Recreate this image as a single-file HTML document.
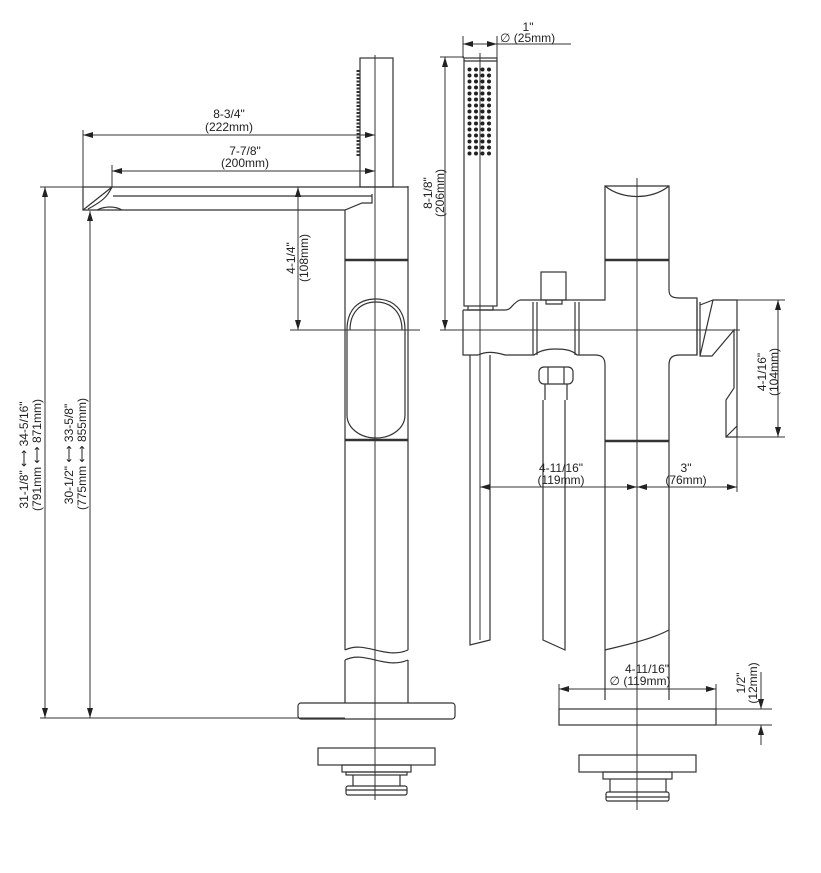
<!DOCTYPE html>
<html><head><meta charset="utf-8"><style>
html,body{margin:0;padding:0;background:#fff;}
svg{display:block;}
text{font-family:"Liberation Sans",sans-serif;font-size:12px;fill:#222;}
</style></head><body>
<svg width="821" height="873" viewBox="0 0 821 873" xmlns="http://www.w3.org/2000/svg">
<defs>
<marker id="a" viewBox="0 0 10 6" refX="10" refY="3" markerWidth="10" markerHeight="6" orient="auto-start-reverse" markerUnits="userSpaceOnUse"><path d="M0,0 L10,3 L0,6z" fill="#222"/></marker>
<pattern id="dots" x="467" y="67" width="6.5" height="6" patternUnits="userSpaceOnUse"><circle cx="2.5" cy="2.5" r="2" fill="#222"/></pattern>
</defs>
<g fill="none" stroke="#333" stroke-width="1.2">
<!-- ===== LEFT VIEW ===== -->
<line x1="375" y1="55" x2="375" y2="800" stroke-width="1"/>
<rect x="360" y="58" width="33" height="129"/>
<line x1="358" y1="70" x2="358" y2="157" stroke-dasharray="2 1.5" stroke-width="3"/>
<path d="M83,187 H408 V186 M83,187 V210 H345 L362,203 H372 V194 M112,187 C108,195 105,200 88,209 M113,196 H372"/>
<line x1="83" y1="210" x2="112" y2="187"/>
<path d="M97,210 C105,206 115,206 122,210"/>
<path d="M345,210 V650 M408,187 V650 M345,660 V703 M408,660 V703"/>
<path d="M345,650 C365,640 385,660 408,650 M345,660 C365,650 385,670 408,660"/>
<line x1="345" y1="260" x2="408" y2="260" stroke-width="2.5"/>
<line x1="345" y1="440" x2="408" y2="440" stroke-width="2.5"/>
<path d="M347,330 C347,310 358,299 376,299 C394,299 405,310 405,330 V415 C405,428 392,438 376,438 C360,438 347,428 347,415 Z"/>
<path d="M350,330 C350,313 360,302 376,302 C392,302 402,313 402,330"/>
<rect x="298" y="703" width="157" height="16" rx="3"/>
<rect x="318" y="748" width="117" height="17"/>
<rect x="342" y="765" width="69" height="7"/>
<rect x="346" y="772" width="61" height="3"/>
<line x1="353" y1="775" x2="353" y2="786"/><line x1="400" y1="775" x2="400" y2="786"/>
<rect x="346" y="786" width="61" height="9" rx="2"/>
<line x1="346" y1="790" x2="407" y2="790"/>
<g stroke-width="1">
<line x1="83" y1="130" x2="83" y2="210"/>
<line x1="112" y1="165" x2="112" y2="187"/>
<line x1="83" y1="135" x2="375" y2="135" marker-start="url(#a)" marker-end="url(#a)"/>
<line x1="112" y1="171" x2="375" y2="171" marker-start="url(#a)" marker-end="url(#a)"/>
<line x1="40" y1="187" x2="83" y2="187"/>
<line x1="45" y1="187" x2="45" y2="718" marker-start="url(#a)" marker-end="url(#a)"/>
<line x1="90" y1="211" x2="90" y2="718" marker-start="url(#a)" marker-end="url(#a)"/>
<line x1="40" y1="718" x2="345" y2="718"/>
<line x1="298" y1="187" x2="298" y2="330" marker-start="url(#a)" marker-end="url(#a)"/>
<line x1="290" y1="330" x2="420" y2="330"/>
</g>
<!-- ===== RIGHT VIEW ===== -->
<line x1="480" y1="53" x2="480" y2="640" stroke-width="1"/>
<line x1="637" y1="178" x2="637" y2="810" stroke-width="1"/>
<rect x="464" y="58" width="33" height="248"/>
<line x1="464" y1="61" x2="497" y2="61"/>
<rect x="467" y="67" width="26" height="90" fill="url(#dots)" stroke="none"/>
<path d="M468,306 V310 H493 V306"/>
<path d="M463,310 H505 C512,310 512,303 520,300 H605 V186 H669 V290 C669,296 672,298 680,298 H697 V355 H680 C672,355 669,358 669,365 V700"/>
<path d="M605,700 V365 C605,358 602,355 595,355 H577 C572,350 565,349 555,349 C545,349 538,352 534,355 H505 C495,352 487,351 478,355 H463 V310"/>
<path d="M605,186 C622,200 652,200 669,186"/>
<line x1="605" y1="260" x2="669" y2="260" stroke-width="2.5"/>
<line x1="605" y1="441" x2="669" y2="441" stroke-width="2.5"/>
<line x1="533" y1="302" x2="533" y2="355"/><line x1="537" y1="302" x2="537" y2="355"/>
<line x1="575" y1="302" x2="575" y2="355"/><line x1="579" y1="302" x2="579" y2="355"/>
<rect x="541" y="272" width="25" height="28"/>
<path d="M546,300 V304 H562 V300"/>
<line x1="697" y1="300" x2="697" y2="355"/><line x1="700" y1="302" x2="700" y2="355"/>
<path d="M713,300 H737 V437 H726 V400 L734,388 V330 L712,356 H700 L713,300 Z"/>
<path d="M700,305 L713,300"/>
<line x1="726" y1="437" x2="737" y2="426"/>
<rect x="539" y="367" width="34" height="17" rx="5"/>
<line x1="548" y1="367" x2="548" y2="384"/><line x1="564" y1="367" x2="564" y2="384"/>
<path d="M545,384 V400 M567,384 V400 M543,400 V640 L565,650 V400"/>
<path d="M470,355 V645 L490,640 V355"/>
<path d="M605,650 C625,645 650,640 669,630"/>
<rect x="559" y="709" width="157" height="16"/>
<rect x="579" y="755" width="117" height="17"/>
<rect x="603" y="772" width="69" height="7"/>
<line x1="610" y1="779" x2="610" y2="792"/><line x1="666" y1="779" x2="666" y2="792"/>
<rect x="606" y="792" width="63" height="9" rx="2"/>
<line x1="606" y1="797" x2="669" y2="797"/>
<g stroke-width="1">
<line x1="463" y1="36" x2="463" y2="58"/><line x1="497" y1="36" x2="497" y2="58"/>
<line x1="463" y1="44" x2="497" y2="44" marker-start="url(#a)" marker-end="url(#a)"/>
<line x1="497" y1="44" x2="571" y2="44"/>
<line x1="440" y1="57" x2="464" y2="57"/>
<line x1="445" y1="57" x2="445" y2="330" marker-start="url(#a)" marker-end="url(#a)"/>
<line x1="440" y1="330" x2="740" y2="330"/>
<line x1="737" y1="300" x2="785" y2="300"/><line x1="737" y1="437" x2="785" y2="437"/>
<line x1="778" y1="300" x2="778" y2="437" marker-start="url(#a)" marker-end="url(#a)"/>
<line x1="480" y1="487" x2="637" y2="487" marker-start="url(#a)" marker-end="url(#a)"/>
<line x1="637" y1="487" x2="737" y2="487" marker-start="url(#a)" marker-end="url(#a)"/>
<line x1="737" y1="437" x2="737" y2="492"/>
<line x1="559" y1="684" x2="559" y2="709"/><line x1="716" y1="684" x2="716" y2="709"/>
<line x1="559" y1="689" x2="716" y2="689" marker-start="url(#a)" marker-end="url(#a)"/>
<line x1="716" y1="709" x2="772" y2="709"/><line x1="716" y1="725" x2="772" y2="725"/>
<line x1="761" y1="672" x2="761" y2="709" marker-end="url(#a)"/>
<line x1="761" y1="745" x2="761" y2="725" marker-end="url(#a)"/>
</g>
</g>
<text x="229" y="118" text-anchor="middle">8-3/4"</text>
<text x="229" y="131" text-anchor="middle">(222mm)</text>
<text x="245" y="155" text-anchor="middle">7-7/8"</text>
<text x="245" y="167" text-anchor="middle">(200mm)</text>
<text transform="translate(295,258) rotate(-90)" text-anchor="middle">4-1/4"</text>
<text transform="translate(308,258) rotate(-90)" text-anchor="middle">(108mm)</text>
<text transform="translate(28,455) rotate(-90)" text-anchor="middle">31-1/8" ⟷ 34-5/16"</text>
<text transform="translate(41,455) rotate(-90)" text-anchor="middle">(791mm ⟷ 871mm)</text>
<text transform="translate(73,454) rotate(-90)" text-anchor="middle">30-1/2" ⟷ 33-5/8"</text>
<text transform="translate(86,454) rotate(-90)" text-anchor="middle">(775mm ⟷ 855mm)</text>
<text x="528" y="31" text-anchor="middle">1"</text>
<text x="500" y="42">∅ (25mm)</text>
<text transform="translate(432,193) rotate(-90)" text-anchor="middle">8-1/8"</text>
<text transform="translate(444,193) rotate(-90)" text-anchor="middle">(206mm)</text>
<text transform="translate(766,372) rotate(-90)" text-anchor="middle">4-1/16"</text>
<text transform="translate(778,372) rotate(-90)" text-anchor="middle">(104mm)</text>
<text x="561" y="472" text-anchor="middle">4-11/16"</text>
<text x="561" y="484" text-anchor="middle">(119mm)</text>
<text x="686" y="472" text-anchor="middle">3"</text>
<text x="686" y="484" text-anchor="middle">(76mm)</text>
<text x="647" y="673" text-anchor="middle">4-11/16"</text>
<text x="640" y="685" text-anchor="middle">∅ (119mm)</text>
<text transform="translate(745,683) rotate(-90)" text-anchor="middle">1/2"</text>
<text transform="translate(757,683) rotate(-90)" text-anchor="middle">(12mm)</text>
</svg>
</body></html>
